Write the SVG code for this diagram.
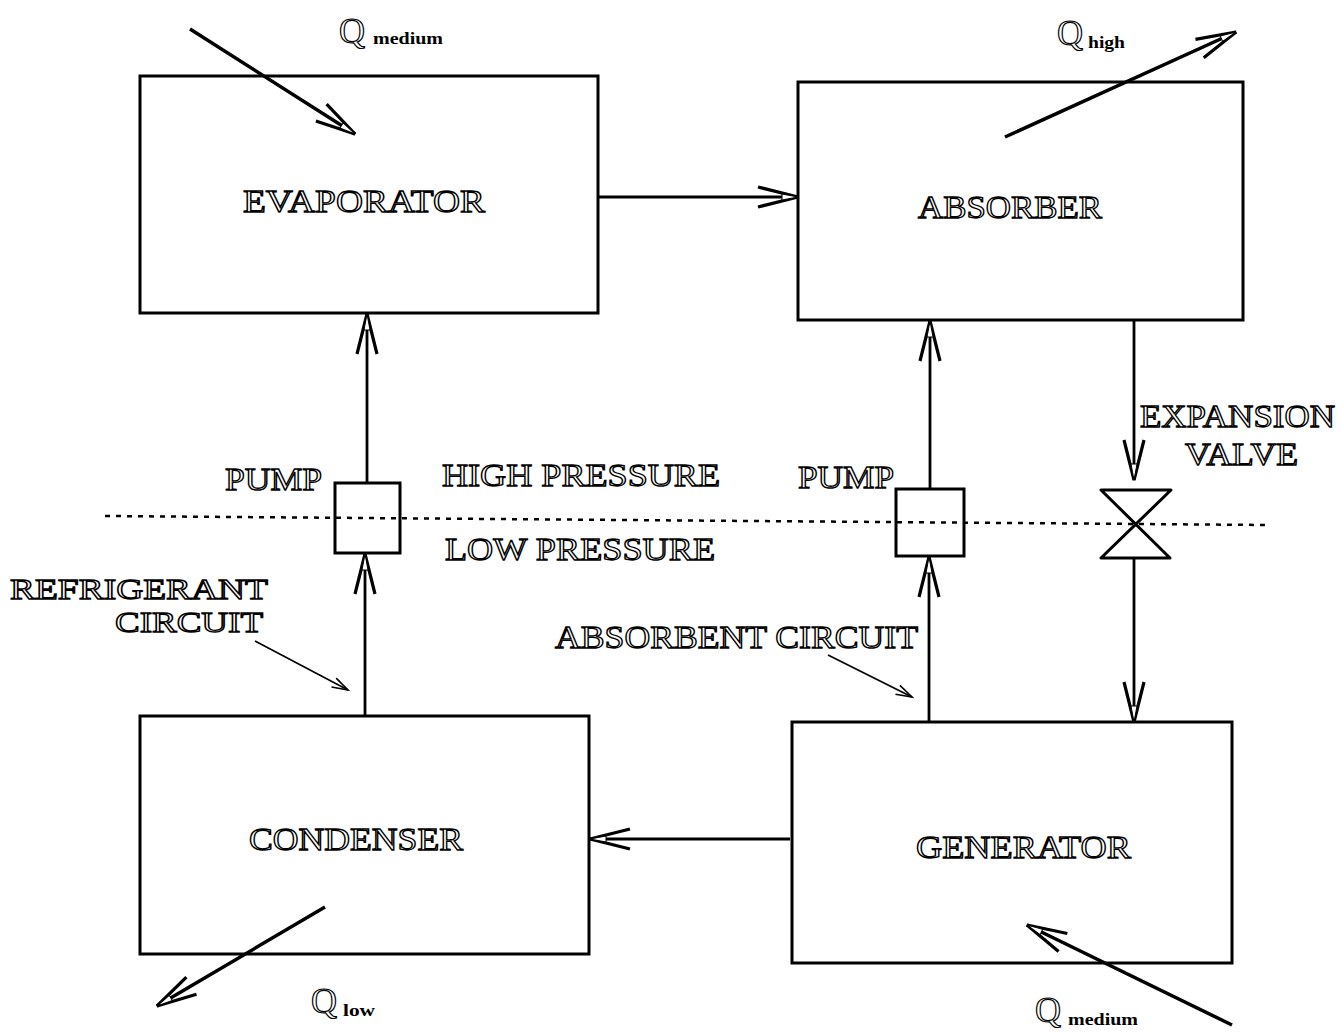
<svg xmlns="http://www.w3.org/2000/svg" width="1342" height="1033" viewBox="0 0 1342 1033">
<style>
.box{fill:none;stroke:#000;stroke-width:3}
.ln{fill:none;stroke:#000;stroke-width:2.8}
.heat{fill:none;stroke:#000;stroke-width:3.5}
.thin{fill:none;stroke:#000;stroke-width:1.6}
.lbl{font-family:"Liberation Serif",serif;font-size:32px;fill:#fff;stroke:#000;stroke-width:1.3}
.q{font-family:"Liberation Serif",serif;font-size:36px;fill:#fff;stroke:#000;stroke-width:1.2}
.sub{font-family:"Liberation Serif",serif;font-size:17px;font-weight:bold;fill:#000}
</style>
<defs>
<marker id="ah" markerUnits="userSpaceOnUse" markerWidth="50" markerHeight="30" viewBox="-44 -15 50 30" refX="0" refY="0" orient="auto">
<path d="M-40,-10 L0,0 L-40,10" fill="none" stroke="#000" stroke-width="3.2"/>
<path d="M-16,-3 L0,0 L-16,3 Z" fill="#fff" stroke="#000" stroke-width="1"/>
</marker>
<marker id="sm" markerUnits="userSpaceOnUse" markerWidth="24" markerHeight="16" viewBox="-20 -8 24 16" refX="0" refY="0" orient="auto">
<path d="M-16,-5 L0,0 L-16,5" fill="none" stroke="#000" stroke-width="1.6"/>
</marker>
</defs>
<rect width="1342" height="1033" fill="#fff"/>

<g id="evaporator">
<rect class="box" x="140" y="76" width="458" height="237"/>
<text class="lbl" x="243" y="212" textLength="242" lengthAdjust="spacingAndGlyphs">EVAPORATOR</text>
</g>
<g id="absorber">
<rect class="box" x="798" y="82" width="445" height="238"/>
<text class="lbl" x="918" y="218" textLength="184" lengthAdjust="spacingAndGlyphs">ABSORBER</text>
</g>
<g id="condenser">
<rect class="box" x="140" y="716" width="449" height="238"/>
<text class="lbl" x="249" y="850" textLength="214" lengthAdjust="spacingAndGlyphs">CONDENSER</text>
</g>
<g id="generator">
<rect class="box" x="792" y="722" width="440" height="241"/>
<text class="lbl" x="916" y="858" textLength="215" lengthAdjust="spacingAndGlyphs">GENERATOR</text>
</g>
<g id="pump1">
<rect class="box" x="335" y="483" width="65" height="70"/>
<text class="lbl" x="225" y="490" textLength="97" lengthAdjust="spacingAndGlyphs">PUMP</text>
</g>
<g id="pump2">
<rect class="box" x="896" y="489" width="68" height="67"/>
<text class="lbl" x="798" y="488" textLength="96" lengthAdjust="spacingAndGlyphs">PUMP</text>
</g>
<g id="valve">
<path d="M1101,490 L1171,490 L1101,558 L1170,558 Z" fill="none" stroke="#000" stroke-width="3" stroke-linejoin="round"/>
<text class="lbl" x="1140" y="427" textLength="195" lengthAdjust="spacingAndGlyphs">EXPANSION</text>
<text class="lbl" x="1185" y="465" textLength="113" lengthAdjust="spacingAndGlyphs">VALVE</text>
</g>

<g id="pressure">
<line x1="105" y1="516" x2="1268" y2="525" stroke="#000" stroke-width="2.5" stroke-dasharray="5,6"/>
<text class="lbl" x="442" y="486" textLength="278" lengthAdjust="spacingAndGlyphs">HIGH PRESSURE</text>
<text class="lbl" x="445" y="560" textLength="270" lengthAdjust="spacingAndGlyphs">LOW PRESSURE</text>
</g>

<g id="labels">
<text class="lbl" x="10" y="599" textLength="258" lengthAdjust="spacingAndGlyphs" style="font-size:29px">REFRIGERANT</text>
<text class="lbl" x="115" y="632" textLength="148" lengthAdjust="spacingAndGlyphs" style="font-size:29px">CIRCUIT</text>
<text class="lbl" x="555" y="648" textLength="363" lengthAdjust="spacingAndGlyphs">ABSORBENT CIRCUIT</text>
<text class="q" x="339" y="43">Q</text><text class="sub" x="373" y="44" textLength="70" lengthAdjust="spacingAndGlyphs">medium</text>
<text class="q" x="1057" y="45">Q</text><text class="sub" x="1088" y="48" textLength="37" lengthAdjust="spacingAndGlyphs">high</text>
<text class="q" x="311" y="1013">Q</text><text class="sub" x="343" y="1016" textLength="32" lengthAdjust="spacingAndGlyphs">low</text>
<text class="q" x="1035" y="1022">Q</text><text class="sub" x="1068" y="1025" textLength="70" lengthAdjust="spacingAndGlyphs">medium</text>
</g>

<g id="connectors">
<line class="ln" x1="598" y1="197" x2="798" y2="197" marker-end="url(#ah)"/>
<line class="ln" x1="790" y1="839" x2="590" y2="839" marker-end="url(#ah)"/>
<line class="ln" x1="367" y1="483" x2="367" y2="314" marker-end="url(#ah)"/>
<line class="ln" x1="365" y1="716" x2="365" y2="554" marker-end="url(#ah)"/>
<line class="ln" x1="930" y1="489" x2="930" y2="321" marker-end="url(#ah)"/>
<line class="ln" x1="929" y1="722" x2="929" y2="557" marker-end="url(#ah)"/>
<line class="ln" x1="1134" y1="320" x2="1134" y2="480" marker-end="url(#ah)"/>
<line class="ln" x1="1134" y1="558" x2="1134" y2="722" marker-end="url(#ah)"/>
<line class="heat" x1="190" y1="29" x2="355" y2="134" marker-end="url(#ah)"/>
<line class="heat" x1="1005" y1="137" x2="1236" y2="32" marker-end="url(#ah)"/>
<line class="heat" x1="325" y1="907" x2="157" y2="1006" marker-end="url(#ah)"/>
<line class="heat" x1="1232" y1="1025" x2="1027" y2="925" marker-end="url(#ah)"/>
<line class="thin" x1="255" y1="641" x2="348" y2="690" marker-end="url(#sm)"/>
<line class="thin" x1="828" y1="655" x2="912" y2="697" marker-end="url(#sm)"/>
</g>
</svg>
